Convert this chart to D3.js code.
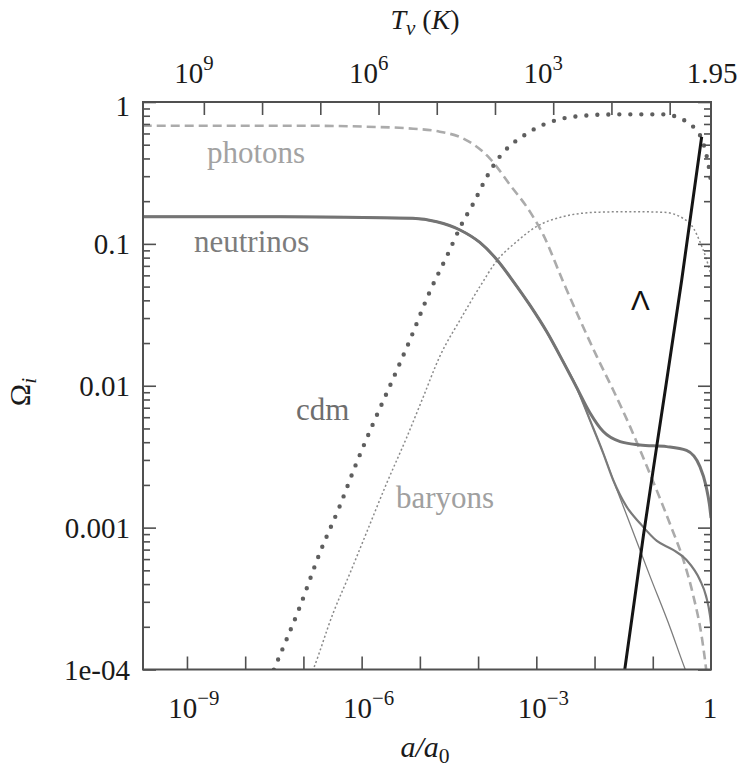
<!DOCTYPE html>
<html>
<head>
<meta charset="utf-8">
<script src="https://cdn.jsdelivr.net/npm/d3@7"></script>
<style>
  body { margin: 0; background: #fff; }
  svg text { font-family: "Liberation Serif", "Times New Roman", serif; }
</style>
</head>
<body>
<svg id="chart" width="739" height="773"></svg>
<script>
// Density parameters Ω_i versus scale factor a/a0.
// Each point is [log10(a/a0), log10(Ω)].
const photons = [
  [-9.76, -0.167], [-7.06, -0.167], [-5.92, -0.174], [-5.23, -0.185], [-4.66, -0.209],
  [-4.26, -0.256], [-3.80, -0.397], [-3.45, -0.585], [-3.11, -0.773], [-2.88, -0.937],
  [-2.54, -1.266], [-2.25, -1.536], [-1.96, -1.795], [-1.68, -2.030], [-1.39, -2.288],
  [-1.10, -2.570], [-0.82, -2.852], [-0.67, -3.010], [-0.48, -3.220], [-0.31, -3.470],
  [-0.155, -3.780], [-0.086, -3.990], [-0.05, -4.120]
];

// the three neutrino species coincide until they become non-relativistic
const neutrinosHeavy = [
  [-9.76, -0.808], [-7.40, -0.808], [-5.12, -0.820], [-4.71, -0.844], [-4.31, -0.902],
  [-3.97, -0.990], [-3.68, -1.110], [-3.40, -1.262], [-3.11, -1.432], [-2.82, -1.620],
  [-2.54, -1.830], [-2.31, -2.010], [-2.08, -2.190], [-1.85, -2.323], [-1.56, -2.394],
  [-1.22, -2.417], [-0.76, -2.429], [-0.42, -2.456], [-0.19, -2.570], [-0.086, -2.706],
  [-0.026, -2.840], [0, -2.932]
];
const neutrinosMedium = [
  [-9.76, -0.808], [-7.40, -0.808], [-5.12, -0.820], [-4.71, -0.844], [-4.31, -0.902],
  [-3.97, -0.990], [-3.68, -1.110], [-3.40, -1.262], [-3.11, -1.432], [-2.82, -1.620],
  [-2.54, -1.830], [-2.31, -2.010], [-2.08, -2.241], [-1.85, -2.476], [-1.68, -2.664],
  [-1.45, -2.852], [-1.22, -2.969], [-0.93, -3.094], [-0.65, -3.157], [-0.42, -3.228],
  [-0.19, -3.369], [-0.086, -3.481], [-0.017, -3.620], [0, -3.680]
];
const neutrinosLight = [
  [-9.76, -0.808], [-7.40, -0.808], [-5.12, -0.820], [-4.71, -0.844], [-4.31, -0.902],
  [-3.97, -0.990], [-3.68, -1.110], [-3.40, -1.262], [-3.11, -1.432], [-2.82, -1.620],
  [-2.54, -1.830], [-2.31, -2.010], [-2.08, -2.241], [-1.85, -2.476], [-1.68, -2.664],
  [-1.39, -2.974], [-1.05, -3.340], [-0.70, -3.707], [-0.45, -3.991], [-0.33, -4.116]
];

const cdm = [
  [-7.58, -4.073], [-7.49, -3.984], [-7.06, -3.557], [-6.72, -3.180], [-6.38, -2.852],
  [-6.09, -2.546], [-5.80, -2.264], [-5.52, -2.006], [-5.17, -1.677], [-4.83, -1.337],
  [-4.54, -1.090], [-4.26, -0.844], [-4.08, -0.714], [-3.88, -0.550], [-3.71, -0.432],
  [-3.11, -0.209], [-2.65, -0.127], [-2.19, -0.097], [-1.62, -0.087], [-0.82, -0.087],
  [-0.59, -0.104], [-0.42, -0.139], [-0.275, -0.187], [-0.19, -0.233], [-0.10, -0.338],
  [-0.034, -0.465], [0, -0.564]
];

const baryons = [
  [-6.87, -4.039], [-6.83, -3.998], [-6.49, -3.603], [-6.20, -3.321], [-5.92, -3.039],
  [-5.57, -2.687], [-5.23, -2.368], [-4.94, -2.077], [-4.66, -1.795], [-4.31, -1.536],
  [-3.97, -1.302], [-3.68, -1.120], [-3.34, -0.985], [-3.00, -0.879], [-2.54, -0.808],
  [-1.96, -0.777], [-1.39, -0.773], [-0.82, -0.777], [-0.48, -0.820], [-0.30, -0.890],
  [-0.19, -0.985], [-0.086, -1.099], [0, -1.219]
];

const lambda = [
  [-1.495, -4.038], [-1.478, -3.991], [-1.163, -3.063], [-0.933, -2.429],
  [-0.503, -1.254], [-0.160, -0.245]
];

// axis ticks and labels
const yMajor = [1e-4, 1e-3, 1e-2, 1e-1, 1];
const yLabels = ["1e-04", "0.001", "0.01", "0.1", "1"];
const xMajorExp = [-9, -8, -7, -6, -5, -4, -3, -2, -1];
const xLabelExp = [-9, -6, -3];
const tempTickExp = [9, 8, 7, 6, 5, 4, 3, 2, 1];   // T_ν = 10^n K
const tempLabelExp = [9, 6, 3];
const tempToday = 1.95;                             // T_ν today, K

const serif = "'Liberation Serif', 'Times New Roman', serif";
const sans = "'Liberation Sans', 'DejaVu Sans', Arial, sans-serif";

const svg = d3.select("#chart");
const plot = { left: 143, right: 711, top: 102, bottom: 669.5 };

const x = d3.scaleLog().domain([Math.pow(10, -9.755), 1]).range([plot.left, plot.right]);
const y = d3.scaleLog().domain([1e-4, 1]).range([plot.bottom, plot.top]);

const axisColor = "#505050";

svg.append("defs").append("clipPath").attr("id", "plotClip")
  .append("rect")
  .attr("x", plot.left).attr("y", plot.top)
  .attr("width", plot.right - plot.left).attr("height", plot.bottom - plot.top);

// ---- curves ----
const line = d3.line()
  .x(d => x(Math.pow(10, d[0])))
  .y(d => y(Math.pow(10, d[1])))
  .curve(d3.curveMonotoneX);

const curves = svg.append("g").attr("clip-path", "url(#plotClip)").attr("fill", "none");

curves.append("path").datum(baryons).attr("d", line)
  .attr("stroke", "#8a8a8a").attr("stroke-width", 1.5).attr("stroke-dasharray", "2,2.4");

curves.append("path").datum(photons).attr("d", line)
  .attr("stroke", "#ababab").attr("stroke-width", 2.6).attr("stroke-dasharray", "9,5");

curves.append("path").datum(neutrinosLight).attr("d", line)
  .attr("stroke", "#7d7d7d").attr("stroke-width", 1.3);
curves.append("path").datum(neutrinosMedium).attr("d", line)
  .attr("stroke", "#7a7a7a").attr("stroke-width", 2.2);
curves.append("path").datum(neutrinosHeavy).attr("d", line)
  .attr("stroke", "#747474").attr("stroke-width", 3);

curves.append("path").datum(cdm).attr("d", line)
  .attr("stroke", "#5e5e5e").attr("stroke-width", 4.4)
  .attr("stroke-linecap", "round").attr("stroke-dasharray", "0,11");

curves.append("path").datum(lambda).attr("d", line)
  .attr("stroke", "#151515").attr("stroke-width", 3);

// ---- frame and ticks ----
function styleAxis(g) {
  g.select(".domain").remove();
  g.selectAll(".tick line").attr("stroke", axisColor).attr("stroke-width", 1.6);
}

const labelFont = 29;

// left: major with labels, minor without
const yMinor = [];
for (let e = -4; e < 0; e++) for (let m = 2; m <= 9; m++) yMinor.push(m * Math.pow(10, e));

const left = svg.append("g").attr("transform", `translate(${plot.left},0)`)
  .call(d3.axisLeft(y).tickValues(yMajor).tickSize(-13).tickPadding(13)
    .tickFormat((d, i) => yLabels[i]))
  .call(styleAxis);
left.selectAll(".tick text")
  .attr("font-size", labelFont).attr("fill", "#1a1a1a")
  .style("font-family", serif)
  .attr("dy", (d) => d === 1 ? "0.48em" : "0.33em");

svg.append("g").attr("transform", `translate(${plot.left},0)`)
  .call(d3.axisLeft(y).tickValues(yMinor).tickSize(-7).tickFormat(""))
  .call(styleAxis);

svg.append("g").attr("transform", `translate(${plot.right},0)`)
  .call(d3.axisRight(y).tickValues(yMajor).tickSize(-13).tickFormat(""))
  .call(styleAxis);
svg.append("g").attr("transform", `translate(${plot.right},0)`)
  .call(d3.axisRight(y).tickValues(yMinor).tickSize(-7).tickFormat(""))
  .call(styleAxis);

// bottom: decades of a/a0
svg.append("g").attr("transform", `translate(0,${plot.bottom})`)
  .call(d3.axisBottom(x).tickValues(xMajorExp.map(e => Math.pow(10, e))).tickSize(-13).tickFormat(""))
  .call(styleAxis);

// top: decades of neutrino temperature, T_ν = 1.95 K / a
svg.append("g").attr("transform", `translate(0,${plot.top})`)
  .call(d3.axisTop(x).tickValues(tempTickExp.map(e => tempToday / Math.pow(10, e))).tickSize(-13).tickFormat(""))
  .call(styleAxis);

svg.append("rect")
  .attr("x", plot.left).attr("y", plot.top)
  .attr("width", plot.right - plot.left).attr("height", plot.bottom - plot.top)
  .attr("fill", "none").attr("stroke", axisColor).attr("stroke-width", 2);

// ---- tick labels with superscripts ----
function powerLabel(parent, xpos, ypos, base, exp) {
  const t = parent.append("text")
    .attr("x", xpos).attr("y", ypos)
    .attr("text-anchor", "middle")
    .style("font-family", serif)
    .attr("font-size", labelFont).attr("fill", "#1a1a1a");
  t.append("tspan").text(base);
  if (exp !== null) {
    t.append("tspan").attr("font-size", "0.72em").attr("dy", "-0.62em").text(exp);
  }
  return t;
}

const labels = svg.append("g");
xLabelExp.forEach(e => {
  powerLabel(labels, x(Math.pow(10, e)) + 7, 718, "10", String(e).replace("-", "\u2212"));
});
powerLabel(labels, x(1) - 1, 718, "1", null);

tempLabelExp.forEach(e => {
  powerLabel(labels, x(1 / Math.pow(10, e)) + 7, 83, "10", String(e));
});
powerLabel(labels, x(1) + 1, 83, String(tempToday), null);

// ---- axis titles ----
const topTitle = svg.append("text")
  .attr("x", 425).attr("y", 29).attr("text-anchor", "middle")
  .style("font-family", serif)
  .attr("font-size", 28).attr("fill", "#1a1a1a");
topTitle.append("tspan").attr("font-style", "italic").text("T");
topTitle.append("tspan").attr("font-style", "italic").attr("font-size", "0.75em").attr("dy", "0.3em").text("\u03bd");
topTitle.append("tspan").attr("dy", "-0.22em").text(" (");
topTitle.append("tspan").attr("font-style", "italic").text("K");
topTitle.append("tspan").text(")");

const bottomTitle = svg.append("text")
  .attr("x", 425).attr("y", 757).attr("text-anchor", "middle")
  .style("font-family", serif)
  .attr("font-size", 30).attr("fill", "#1a1a1a");
bottomTitle.append("tspan").attr("font-style", "italic").text("a/a");
bottomTitle.append("tspan").attr("font-size", "0.72em").attr("dy", "0.3em").text("0");

const yTitle = svg.append("text")
  .attr("transform", "translate(30,392) rotate(-90)")
  .attr("text-anchor", "middle")
  .style("font-family", serif)
  .attr("font-size", 30).attr("fill", "#1a1a1a");
yTitle.append("tspan").text("\u03a9");
yTitle.append("tspan").attr("font-style", "italic").attr("font-size", "0.72em").attr("dy", "0.3em").text("i");

// ---- curve labels ----
const curveLabels = [
  { text: "photons", x: 207, y: 163, color: "#a2a2a2" },
  { text: "neutrinos", x: 194, y: 252, color: "#7c7c7c" },
  { text: "cdm", x: 296, y: 420, color: "#6e6e6e" },
  { text: "baryons", x: 396, y: 508, color: "#a0a0a0" }
];
svg.append("g").selectAll("text").data(curveLabels).join("text")
  .attr("x", d => d.x).attr("y", d => d.y)
  .style("font-family", serif)
  .attr("font-size", 31).attr("fill", d => d.color)
  .text(d => d.text);

svg.append("text")
  .attr("x", 631).attr("y", 310)
  .style("font-family", sans)
  .attr("font-size", 28).attr("fill", "#111")
  .text("\u039b");
</script>
</body>
</html>
